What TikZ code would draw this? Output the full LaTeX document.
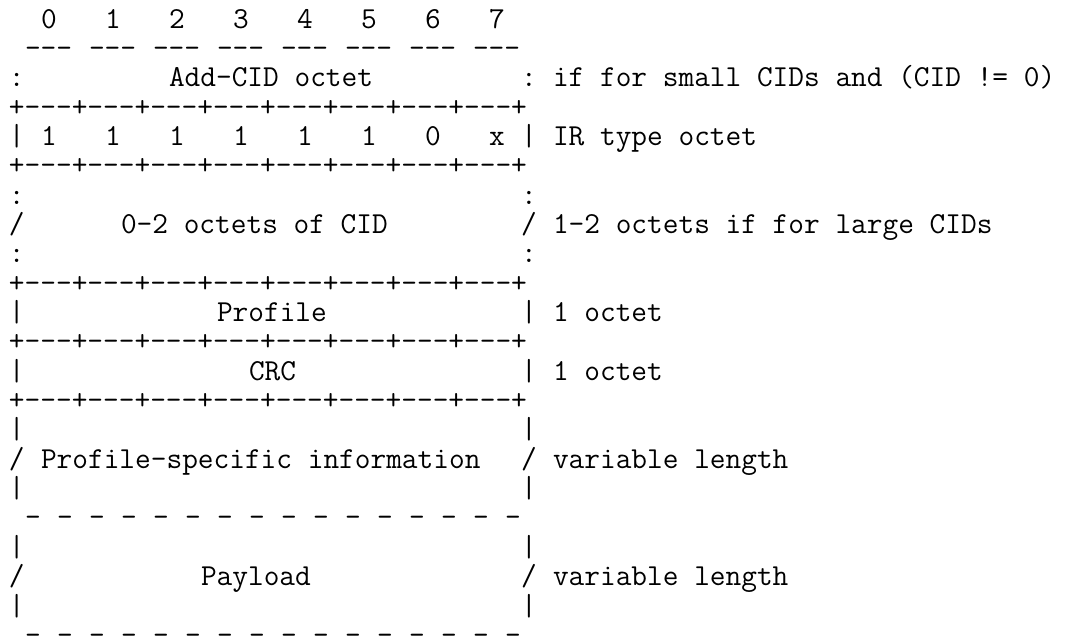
\documentclass[tikz,border=0pt]{standalone}
\usepackage{fontspec}
\setmonofont{Latin Modern Mono}
\tikzset{
  txt/.style={inner sep=0pt, outer sep=0pt, anchor=base west, text=black,
              font=\ttfamily\fontsize{30.476pt}{29.35pt}\selectfont}
}
% place a text segment at a character row / column of the monospaced grid
\newcommand\seg[3]{\node[txt] (r#1c#2) at ({9+16*#2},{-28-29.35*(#1-1)}) {#3};}
\newcommand\border[1]{\seg{#1}{0}{+---+---+---+---+---+---+---+---+}}
\begin{document}
\begin{tikzpicture}[x=1pt,y=1pt]
\useasboundingbox (0,0) rectangle (1065,-637);
% row 1: bit numbers
\foreach \b [count=\i from 0, evaluate=\i as \c using int(2+4*\i)] in {0,...,7} {\seg{1}{\c}{\b}}
% row 2
\foreach \i [evaluate=\i as \c using int(1+4*\i)] in {0,...,7} {\seg{2}{\c}{---}}
% row 3
\seg{3}{0}{:}
\seg{3}{10}{Add-CID octet}
\seg{3}{32}{:}
\seg{3}{34}{if for small CIDs and (CID != 0)}
\border{4}
% row 5
\seg{5}{0}{|}
\foreach \b [count=\i from 0, evaluate=\i as \c using int(2+4*\i)] in {1,1,1,1,1,1,0,x} {\seg{5}{\c}{\b}}
\seg{5}{32}{|}
\seg{5}{34}{IR type octet}
\border{6}
% rows 7-9
\seg{7}{0}{:}  \seg{7}{32}{:}
\seg{8}{0}{/}
\seg{8}{7}{0-2 octets of CID}
\seg{8}{32}{/}
\seg{8}{34}{1-2 octets if for large CIDs}
\seg{9}{0}{:}  \seg{9}{32}{:}
\border{10}
% row 11
\seg{11}{0}{|}
\seg{11}{13}{Profile}
\seg{11}{32}{|}
\seg{11}{34}{1 octet}
\border{12}
% row 13
\seg{13}{0}{|}
\seg{13}{15}{CRC}
\seg{13}{32}{|}
\seg{13}{34}{1 octet}
\border{14}
% rows 15-18
\seg{15}{0}{|}  \seg{15}{32}{|}
\seg{16}{0}{/}
\seg{16}{2}{Profile-specific information}
\seg{16}{32}{/}
\seg{16}{34}{variable length}
\seg{17}{0}{|}  \seg{17}{32}{|}
\foreach \i [evaluate=\i as \c using int(1+2*\i)] in {0,...,15} {\seg{18}{\c}{-}}
% rows 19-22
\seg{19}{0}{|}  \seg{19}{32}{|}
\seg{20}{0}{/}
\seg{20}{12}{Payload}
\seg{20}{32}{/}
\seg{20}{34}{variable length}
\seg{21}{0}{|}  \seg{21}{32}{|}
\foreach \i [evaluate=\i as \c using int(1+2*\i)] in {0,...,15} {\seg{22}{\c}{-}}
\end{tikzpicture}
\end{document}
